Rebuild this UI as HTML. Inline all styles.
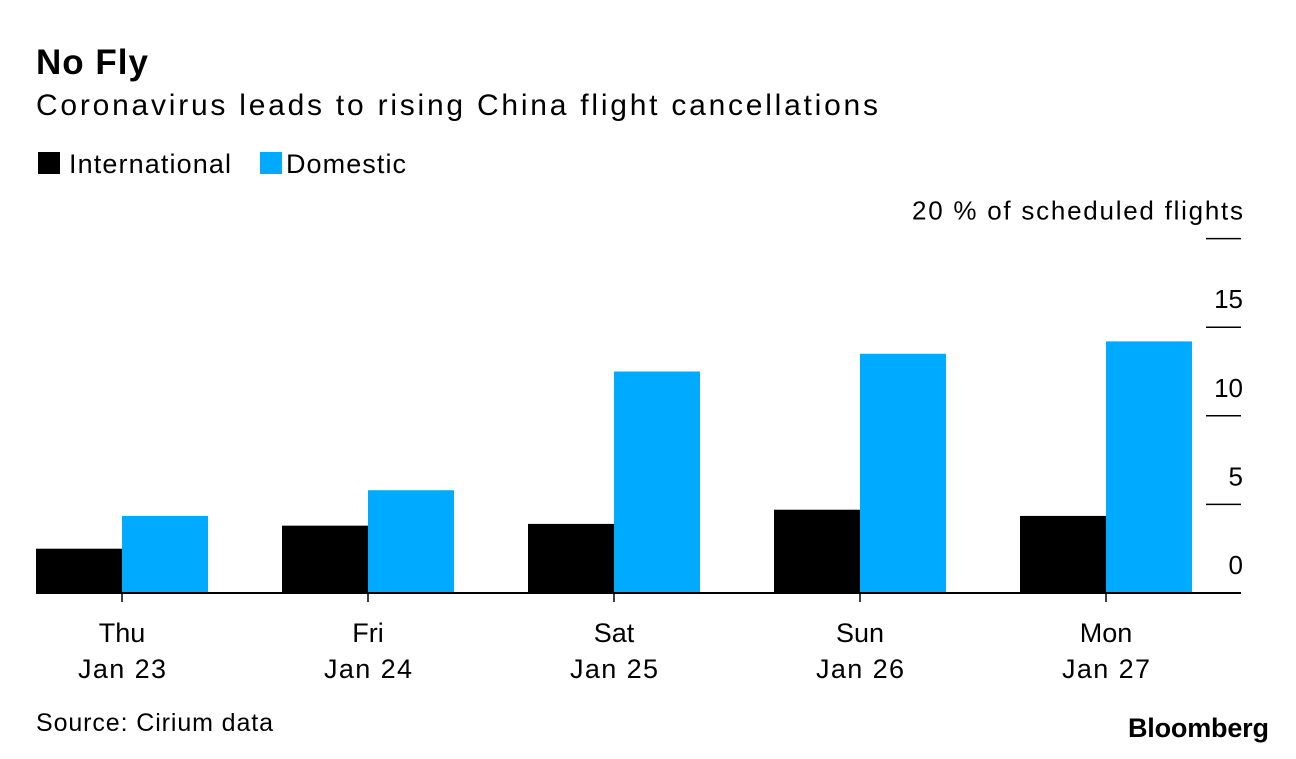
<!DOCTYPE html>
<html><head><meta charset="utf-8"><style>
body{margin:0;background:#fff;font-family:"Liberation Sans",sans-serif;}
svg text{font-family:"Liberation Sans",sans-serif;}
</style></head><body>
<svg width="1296" height="754">
<text x="36" y="74" font-size="35" font-weight="bold" textLength="112">No Fly</text>
<text x="36" y="115" font-size="30" textLength="842">Coronavirus leads to rising China flight cancellations</text>
<rect x="38" y="152" width="22" height="22" fill="#000"/>
<text x="69" y="173" font-size="27" textLength="162">International</text>
<rect x="260" y="152" width="22" height="22" fill="#00aaff"/>
<text x="286" y="173" font-size="27" textLength="120">Domestic</text>
<g id="plot"></g>
<text x="36" y="731" font-size="25" textLength="237">Source: Cirium data</text>
<text x="1268" y="737" font-size="27" font-weight="bold" text-anchor="end" textLength="140" letter-spacing="-1">Bloomberg</text>
</svg>
<script>
const days = ["Thu","Fri","Sat","Sun","Mon"];
const dates = ["Jan 23","Jan 24","Jan 25","Jan 26","Jan 27"];
const international = [2.5, 3.8, 3.9, 4.7, 4.35];
const domestic = [4.35, 5.8, 12.5, 13.5, 14.2];
const ticks = [0, 5, 10, 15, 20];
const ns = "http://www.w3.org/2000/svg";
const g = document.getElementById("plot");
const y = v => 593 - v * 17.72;
const cx = i => 122 + 246 * i;
const bw = 86;
function mk(tag, attrs){const e=document.createElementNS(ns,tag);for(const k in attrs)e.setAttribute(k,attrs[k]);g.appendChild(e);return e;}
ticks.forEach((t,i)=>{
  if(t>0){const l=mk("line",{x1:1206,x2:1241,y1:y(t),y2:y(t),stroke:"#000","stroke-width":1.5});
  
  }
  const a={x:1243,y:y(t)-19,"font-size":26,"text-anchor":"end"};
  if(t===20) a.textLength=331;
  const tx=mk("text",a);
  tx.textContent = t===20 ? "20 % of scheduled flights" : String(t);
  
  
});
days.forEach((d,i)=>{
  const r1=mk("rect",{x:cx(i)-bw,y:y(international[i]),width:bw,height:y(0)-y(international[i]),fill:"#000"});
  
  
  const r2=mk("rect",{x:cx(i),y:y(domestic[i]),width:bw,height:y(0)-y(domestic[i]),fill:"#00aaff"});
  
  
  const tk=mk("line",{x1:cx(i),x2:cx(i),y1:593,y2:602,stroke:"#000","stroke-width":1.5});
  
  
  const t1=mk("text",{x:cx(i),y:642,"font-size":27,"text-anchor":"middle"});t1.textContent=d;
  
  
  const t2=mk("text",{x:cx(i),y:678,"font-size":27,"text-anchor":"middle",textLength:88});t2.textContent=dates[i];
  
  
});
const base=mk("line",{x1:36,x2:1241,y1:593,y2:593,stroke:"#000","stroke-width":2});


</script>
</body></html>
